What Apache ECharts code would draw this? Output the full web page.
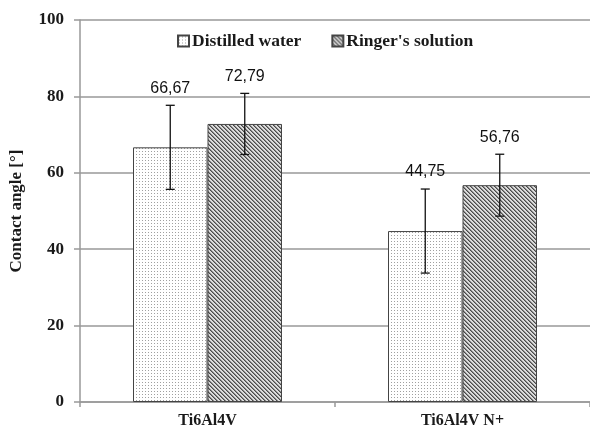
<!DOCTYPE html>
<html>
<head>
<meta charset="utf-8">
<script src="https://cdn.jsdelivr.net/npm/echarts@6/dist/echarts.min.js"></script>
<style>html,body{margin:0;padding:0;background:#fff}#c{width:590px;height:429px}</style>
</head>
<body>
<div id="c"></div>
<script>
// ---- data ----
const categories = ['Ti6Al4V', 'Ti6Al4V N+'];
const seriesNames = ['Distilled water', "Ringer's solution"];
const distilledValues = [66.67, 44.75];
const ringerValues = [72.79, 56.76];
const distilledErr = [11, 11];
const ringerErr = [8, 8.1];
const yTicks = [0, 20, 40, 60, 80, 100];

// ---- patterns ----
function dotPattern() {
  const c = document.createElement('canvas');
  c.width = 3; c.height = 3;
  const g = c.getContext('2d');
  g.fillStyle = '#ffffff'; g.fillRect(0, 0, 3, 3);
  g.fillStyle = '#a0a0a0'; g.fillRect(1, 1, 1, 1);
  return c;
}
function hatchPattern() {
  const c = document.createElement('canvas');
  c.width = 4; c.height = 4;
  const g = c.getContext('2d');
  g.fillStyle = '#dcdcdc'; g.fillRect(0, 0, 4, 4);
  for (let i = 0; i < 4; i++) {
    g.fillStyle = '#4a4a4a'; g.fillRect(i, i, 1, 1);
    g.fillStyle = '#8a8a8a'; g.fillRect((i + 1) % 4, i, 1, 1);
  }
  return c;
}
const dotFill = { image: dotPattern(), repeat: 'repeat' };
const hatchFill = { image: hatchPattern(), repeat: 'repeat' };

const BAR_W = 74.5;
const serif = '"Liberation Serif", "Times New Roman", serif';
const sans = '"Liberation Sans", Arial, sans-serif';

function fmt(v) { return v.toFixed(2).replace('.', ','); }

function errSeries(values, errs, side) {
  return {
    type: 'custom',
    name: 'err' + side,
    z: 5,
    silent: true,
    data: values.map((v, i) => [i, v, errs[i]]),
    renderItem: function (params, api) {
      const i = api.value(0), v = api.value(1), e = api.value(2);
      const base = api.coord([i, v]);
      const x = base[0] + side * BAR_W / 2;
      const top = api.coord([i, v + e])[1];
      const bot = api.coord([i, v - e])[1];
      const cap = 4.5;
      const st = { stroke: '#111', lineWidth: 1.3 };
      return {
        type: 'group',
        children: [
          { type: 'line', shape: { x1: x, y1: top, x2: x, y2: bot }, style: st },
          { type: 'line', shape: { x1: x - cap, y1: top, x2: x + cap, y2: top }, style: st },
          { type: 'line', shape: { x1: x - cap, y1: bot, x2: x + cap, y2: bot }, style: st },
          { type: 'text', style: { x: x, y: top - 17, text: fmt(v), align: 'center', verticalAlign: 'middle',
              font: '16px ' + sans, fill: '#111' } }
        ]
      };
    }
  };
}

const chart = echarts.init(document.getElementById('c'), null, { renderer: 'canvas' });
chart.setOption({
  animation: false,
  backgroundColor: '#ffffff',
  grid: { left: 79, top: 20, width: 516, height: 383 },
  legend: {
    data: seriesNames,
    left: 172, top: 27,
    itemWidth: 11, itemHeight: 11, itemGap: 30,
    icon: 'rect',
    textStyle: { fontFamily: serif, fontSize: 17.5, fontWeight: 'bold', color: '#1a1a1a', padding: [0, 0, 0, -2] }
  },
  xAxis: {
    type: 'category',
    data: categories,
    axisLine: { lineStyle: { color: '#999', width: 1.5 } },
    axisTick: { show: true, length: 5, lineStyle: { color: '#999', width: 1.5 } },
    axisLabel: { fontFamily: serif, fontSize: 16, fontWeight: 'bold', color: '#1a1a1a', margin: 11 }
  },
  yAxis: {
    type: 'value',
    min: yTicks[0], max: yTicks[yTicks.length - 1], interval: 20,
    name: 'Contact angle [°]',
    nameLocation: 'middle',
    nameGap: 55,
    nameTextStyle: { fontFamily: serif, fontSize: 17, fontWeight: 'bold', color: '#1a1a1a' },
    axisLine: { show: true, lineStyle: { color: '#999', width: 1.5 } },
    axisTick: { show: true, length: 6, lineStyle: { color: '#999', width: 1.5 } },
    axisLabel: { fontFamily: serif, fontSize: 17, fontWeight: 'bold', color: '#1a1a1a', margin: 16 },
    splitLine: { lineStyle: { color: '#999', width: 1.5 } }
  },
  series: [
    {
      name: seriesNames[0], type: 'bar', data: distilledValues, barWidth: BAR_W, barGap: '0%',
      itemStyle: { color: dotFill, borderColor: '#444', borderWidth: 1 }
    },
    {
      name: seriesNames[1], type: 'bar', data: ringerValues, barWidth: BAR_W, barGap: '0%',
      itemStyle: { color: hatchFill, borderColor: '#444', borderWidth: 1 }
    },
    errSeries(distilledValues, distilledErr, -1),
    errSeries(ringerValues, ringerErr, 1)
  ]
});
</script>
</body>
</html>
